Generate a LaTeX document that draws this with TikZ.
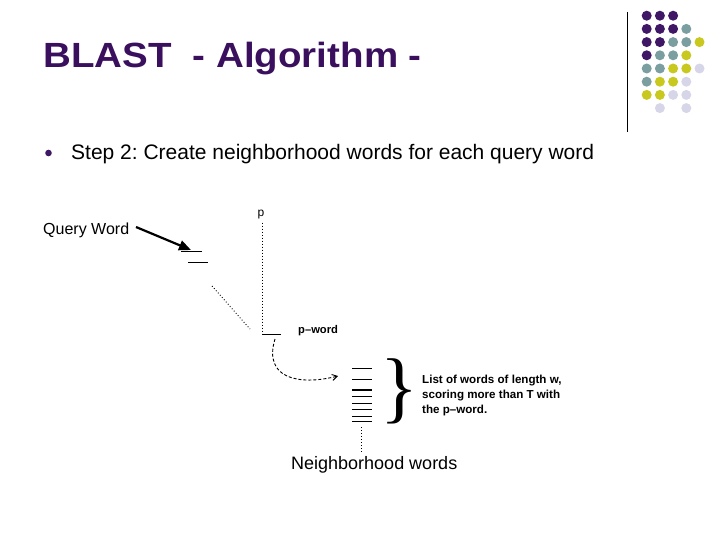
\documentclass[tikz,border=0pt]{standalone}
\usepackage{fontspec}
\setmainfont{Liberation Sans}
\newfontfamily\braceserif{Liberation Serif}
\usetikzlibrary{arrows.meta}
\frenchspacing
\definecolor{titlepurple}{HTML}{3A0F5E}
\definecolor{dotP}{HTML}{3F1766}
\definecolor{dotT}{HTML}{7B9EA0}
\definecolor{dotY}{HTML}{C8C81E}
\definecolor{dotL}{HTML}{D6D6E8}
\tikzset{
  txt/.style={anchor=base west, inner sep=0pt, text=black},
  dotline/.style={line width=0.9pt, dash pattern=on 0.9pt off 2.1pt},
  wordline/.style={line width=0.9pt},
  griddot/.style={circle, inner sep=0pt, minimum size=10pt},
}
\begin{document}
\begin{tikzpicture}[x=1pt,y=-1pt]
\useasboundingbox (0,0) rectangle (720,540);
% decorative dot grid and rule
\draw[line width=1pt] (627,12) coordinate (ruletop) -- (627,132) coordinate (rulebot);
\foreach \c/\r/\col in {
  1/1/dotP,2/1/dotP,3/1/dotP,
  1/2/dotP,2/2/dotP,3/2/dotP,4/2/dotT,
  1/3/dotP,2/3/dotP,3/3/dotT,4/3/dotT,5/3/dotY,
  1/4/dotP,2/4/dotT,3/4/dotT,4/4/dotY,
  1/5/dotT,2/5/dotT,3/5/dotY,4/5/dotY,5/5/dotL,
  1/6/dotT,2/6/dotY,3/6/dotY,4/6/dotL,
  1/7/dotY,2/7/dotY,3/7/dotL,4/7/dotL,
  2/8/dotL,4/8/dotL}{
  \node[griddot, fill=\col] (g\c\r) at ({633.5+13.2*\c},{2.5+13.2*\r}) {};
}
% title
\node[anchor=base west, inner sep=0pt, text=titlepurple,
      font=\fontsize{35}{35}\selectfont\bfseries, xscale=1.1] (title) at (43,68) {BLAST\ \ - Algorithm -};
% bullet
\node[circle, fill=dotP, inner sep=0pt, minimum size=6.6pt] (bullet) at (48.5,153) {};
\node[txt, font=\fontsize{21}{21}\selectfont] (step) at (71,160) {Step 2: Create neighborhood words for each query word};
% query word
\node[txt, font=\fontsize{16}{16}\selectfont] (qw) at (43,234) {Query Word};
\coordinate (q1a) at (181,251); \coordinate (q1b) at (202,251);
\coordinate (q2a) at (188,262); \coordinate (q2b) at (208,262);
\coordinate (qtip) at (191,250);
\draw[wordline] (q1a) -- (q1b);
\draw[wordline] (q2a) -- (q2b);
\coordinate (qstart) at (136,227);
\draw[line width=2.2pt, -{Triangle[length=12pt,width=10pt]}] (qstart) -- (qtip);
% dotted diagonal
\coordinate (d1) at (212,286); \coordinate (d2) at (250,329);
\draw[dotline] (d1) -- (d2);
% p and vertical dotted
\node[txt, font=\fontsize{12}{12}\selectfont] (p) at (257.5,217) {p};
\coordinate (pv) at (262,334);
\coordinate (pw) at (281,334);
\draw[dotline] (p.south -| pv) ++(0,3) -- (pv);
\draw[wordline] (pv) -- (pw);
\node[txt, font=\fontsize{11.2}{11.2}\selectfont\bfseries] (pword) at (298,333) {p–word};
% dashed curved arrow
\coordinate (cs) at (275,339);
\coordinate (ce) at (338,376);
\draw[line width=0.9pt, dash pattern=on 3pt off 2pt, -{Straight Barb[length=5pt,width=6pt]}]
  (cs) .. controls (263,378) and (298,386) .. (ce);
% list of words
\foreach \yy/\w [count=\i] in {368/0.9,379/0.9,390/2,396.7/0.9,403.3/0.9,409.3/0.9,416/0.9,421.7/0.9}{
  \draw[line width=\w pt] (352,\yy) coordinate (la\i) -- (372,\yy) coordinate (lb\i);
}
\coordinate (ld1) at (361,427); \coordinate (ld2) at (361,452);
\draw[dotline] (ld1) -- (ld2);
% brace
\node[anchor=base west, inner sep=0pt, font=\braceserif\fontsize{79}{79}\selectfont] (brace) at (380,413) {\}};
\node[txt, font=\fontsize{11.6}{15}\selectfont\bfseries] (bt1) at (422,383) {List of words of length w,};
\node[txt, font=\fontsize{11.6}{15}\selectfont\bfseries] (bt2) at (422,398) {scoring more than T with};
\node[txt, font=\fontsize{11.6}{15}\selectfont\bfseries] (bt3) at (422,413) {the p–word.};
% neighborhood words
\node[txt, font=\fontsize{18}{18}\selectfont] (nbw) at (291,469) {Neighborhood words};
\end{tikzpicture}
\end{document}
